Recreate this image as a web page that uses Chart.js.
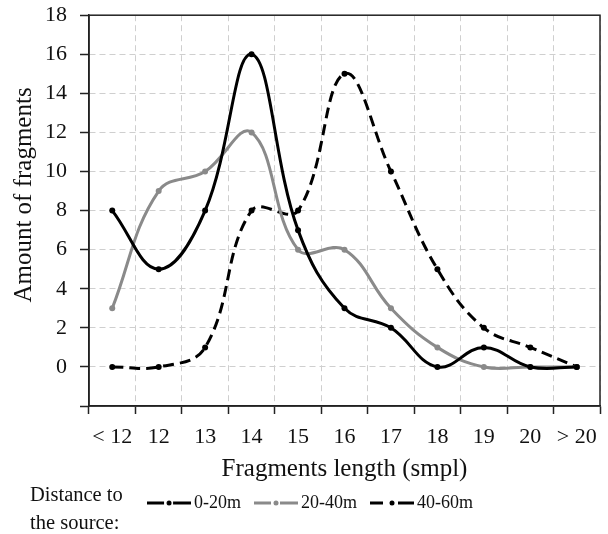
<!DOCTYPE html>
<html>
<head>
<meta charset="utf-8">
<script src="https://cdn.jsdelivr.net/npm/chart.js@4.4.1/dist/chart.umd.min.js"></script>
<style>
  html, body { margin: 0; padding: 0; background: #fff; }
  #wrap { position: relative; width: 608px; height: 534px; }
  #tituloLeyenda {
    position: absolute; left: 30px; top: 480px;
    font-family: "Liberation Serif", serif; font-size: 20.5px; line-height: 28px; color: #111;
  }
</style>
</head>
<body>
<div id="wrap">
  <canvas id="grafico" width="608" height="534"></canvas>
  <div id="tituloLeyenda">Distance to<br>the source:</div>
</div>
<script>
// Datos
const categorias = ["< 12", "12", "13", "14", "15", "16", "17", "18", "19", "20", "> 20"];
const serie0a20 = [8, 5, 8, 16, 7, 3, 2, 0, 1, 0, 0];
const serie20a40 = [3, 9, 10, 12, 6, 6, 3, 1, 0, 0, 0];
const serie40a60 = [0, 0, 1, 8, 8, 15, 10, 5, 2, 1, 0];
const nombresSeries = ["0-20m", "20-40m", "40-60m"];

const fuente = "'Liberation Serif', 'Times New Roman', serif";
const gris = "#8a8a8a";

// icono de leyenda: línea con punto en medio
function iconoLeyenda(color, discontinua) {
  const c = document.createElement("canvas");
  c.width = 44; c.height = 10;
  const g = c.getContext("2d");
  g.strokeStyle = color;
  g.lineWidth = 3;
  g.beginPath();
  if (discontinua) {
    g.moveTo(0, 5); g.lineTo(13, 5);
    g.moveTo(28, 5); g.lineTo(44, 5);
  } else {
    g.moveTo(0, 5); g.lineTo(17, 5);
    g.moveTo(26, 5); g.lineTo(44, 5);
  }
  g.stroke();
  g.fillStyle = color;
  g.beginPath();
  g.arc(22, 5, 2.5, 0, Math.PI * 2);
  g.fill();
  return c;
}

// marco del área y leyenda desplazada a la derecha del texto "Distance to the source"
const marco = {
  id: "marco",
  afterLayout(chart) {
    chart.legend.left += 13;
    chart.legend.right += 13;
  },
  beforeDatasetsDraw(chart) {
    const a = chart.chartArea;
    const ctx = chart.ctx;
    ctx.save();
    ctx.strokeStyle = "#222";
    ctx.lineWidth = 1.5;
    ctx.strokeRect(a.left, a.top, a.right - a.left, a.bottom - a.top);
    ctx.restore();
  }
};

const ctx = document.getElementById("grafico").getContext("2d");

window.myChart = new Chart(ctx, {
  type: "line",
  data: {
    labels: categorias,
    datasets: [
      {
        label: nombresSeries[0],
        data: serie0a20,
        borderColor: "#000",
        backgroundColor: "#000",
        pointBackgroundColor: "#000",
        borderWidth: 3,
        pointRadius: 3,
        pointBorderWidth: 0,
        tension: 0.4
      },
      {
        label: nombresSeries[1],
        data: serie20a40,
        borderColor: gris,
        backgroundColor: gris,
        pointBackgroundColor: gris,
        borderWidth: 3,
        pointRadius: 3,
        pointBorderWidth: 0,
        tension: 0.4
      },
      {
        label: nombresSeries[2],
        data: serie40a60,
        borderColor: "#000",
        backgroundColor: "#000",
        pointBackgroundColor: "#000",
        borderWidth: 3,
        borderDash: [11, 6],
        pointRadius: 3,
        pointBorderWidth: 0,
        tension: 0.4
      }
    ]
  },
  options: {
    responsive: false,
    animation: false,
    layout: { padding: { left: 0, right: 8, top: 15, bottom: 12 } },
    plugins: {
      tooltip: { enabled: false },
      legend: {
        position: "bottom",
        align: "center",
        labels: {
          usePointStyle: true,
          pointStyleWidth: 32,
          boxHeight: 10,
          padding: 19,
          color: "#111",
          font: { family: fuente, size: 18 },
          generateLabels(chart) {
            return chart.data.datasets.map((ds, i) => ({
              text: ds.label,
              pointStyle: iconoLeyenda(ds.borderColor, i === 2),
              fillStyle: ds.borderColor,
              strokeStyle: ds.borderColor,
              lineWidth: 0,
              fontColor: "#111",
              hidden: false,
              datasetIndex: i
            }));
          }
        }
      }
    },
    scales: {
      x: {
        offset: true,
        grid: {
          offset: true,
          color: "#cfcfcf",
          lineWidth: 1,
          tickLength: 8,
          tickColor: "#222",
          tickWidth: 1.5
        },
        border: { display: true, color: "#222", width: 1.5, dash: [6, 4] },
        ticks: {
          color: "#111",
          font: { family: fuente, size: 22 },
          padding: 10,
          maxRotation: 0,
          autoSkip: false
        },
        title: {
          display: true,
          text: "Fragments length (smpl)",
          color: "#111",
          font: { family: fuente, size: 25 },
          padding: { top: 0, bottom: -9 }
        },
        afterFit(scale) { scale.height = 69; }
      },
      y: {
        min: -2,
        max: 18,
        grid: {
          color: "#cfcfcf",
          lineWidth: 1,
          tickLength: 9,
          tickColor: "#222",
          tickWidth: 1.5
        },
        border: { display: true, color: "#222", width: 1.5, dash: [6, 4] },
        ticks: {
          stepSize: 2,
          color: "#111",
          font: { family: fuente, size: 22, lineHeight: 0.2 },
          padding: 13,
          callback: (v) => (v < 0 ? "" : v)
        },
        title: {
          display: true,
          text: "     Amount of fragments",
          color: "#111",
          font: { family: fuente, size: 25 },
          padding: { top: 9, bottom: 0 }
        },
        afterFit(scale) { scale.width = 89; }
      }
    }
  },
  plugins: [marco]
});
</script>
</body>
</html>
